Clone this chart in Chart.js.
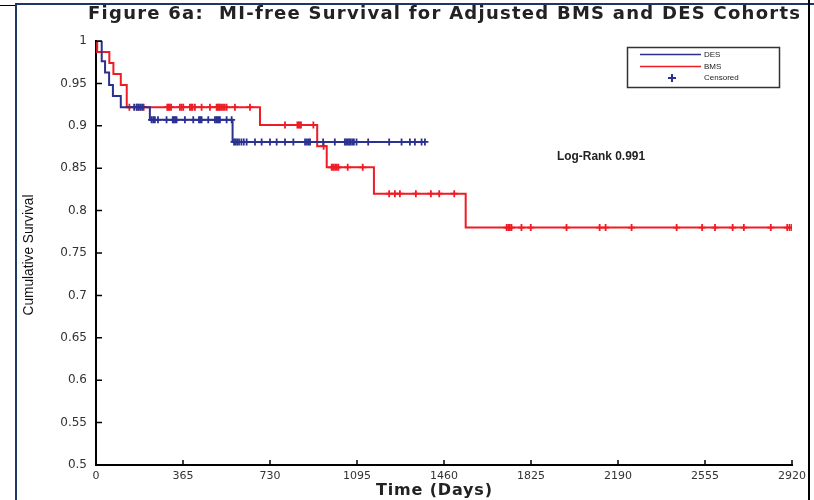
<!DOCTYPE html>
<html>
<head>
<title>MI-free Survival</title>
<script src="https://cdn.jsdelivr.net/npm/chart.js"></script>
<style>
  body { margin: 0; background: #fff; }
  #wrap { width: 814px; height: 500px; position: relative; }
</style>
</head>
<body>
<div id="wrap"><canvas id="kmChart" width="814" height="500"></canvas></div>
<script>
// axis ticks
const xTicks = [0, 365, 730, 1095, 1460, 1825, 2190, 2555, 2920];
const yTicks = [0.5, 0.55, 0.6, 0.65, 0.7, 0.75, 0.8, 0.85, 0.9, 0.95, 1];

// Kaplan-Meier steps (day of drop, survival after drop)
const desDays = [0, 24, 38, 55, 71, 104, 226, 573, 1380];
const desSurv = [1, 0.976, 0.963, 0.948, 0.935, 0.922, 0.907, 0.881, 0.881];
const bmsDays = [0, 5, 56, 73, 104, 129, 688, 928, 968, 1166, 1551, 2920];
const bmsSurv = [1, 0.987, 0.974, 0.961, 0.948, 0.922, 0.901, 0.876, 0.851, 0.820, 0.780, 0.780];

// censored patients (days)
const desCensored = [160, 170, 180, 188, 195, 233, 240, 247, 260, 296, 322, 327, 332, 338, 373, 408,
  432, 437, 443, 471, 499, 505, 510, 515, 520, 548, 569, 579, 585, 592, 600, 610, 620, 632, 667, 695,
  730, 758, 793, 828, 877, 885, 892, 898, 953, 1002, 1044, 1050, 1056, 1062, 1068, 1075, 1082, 1093,
  1142, 1230, 1282, 1317, 1338, 1366, 1380];
const bmsCensored = [140, 172, 178, 200, 299, 304, 309, 315, 352, 359, 366, 394, 400, 405, 415, 443, 478,
  506, 511, 516, 520, 526, 533, 540, 548, 583, 646, 793, 845, 850, 855, 860, 912, 955, 989, 995,
  1003, 1010, 1017, 1056, 1119, 1230, 1254, 1275, 1342, 1405, 1440, 1503, 1723, 1730, 1736, 1743,
  1785, 1824, 1974, 2113, 2138, 2247, 2436, 2543, 2597, 2671, 2718, 2831, 2900, 2910, 2920];

const blue = '#2b3190';
const red = '#ee1c25';

function stepAt(days, surv, t) {
  let s = surv[0];
  for (let i = 0; i < days.length; i++) if (days[i] <= t) s = surv[i];
  return s;
}

// draw text centred at x,y, spread with letter spacing to a given width
function spreadText(ctx, text, x, y, width, font, color, rot) {
  ctx.save();
  ctx.font = font;
  ctx.fillStyle = color;
  ctx.textAlign = 'left';
  ctx.textBaseline = 'middle';
  const w = ctx.measureText(text).width;
  ctx.translate(x, y);
  if (rot) ctx.rotate(rot);
  if ('letterSpacing' in ctx && width > w) {
    const sp = (width - w) / (text.length - 1);
    ctx.letterSpacing = sp + 'px';
    ctx.fillText(text, -width / 2, 0);
  } else {
    ctx.scale(width / w, 1);
    ctx.fillText(text, -w / 2, 0);
  }
  ctx.restore();
}

const decor = {
  id: 'decor',
  afterDraw(chart) {
    const ctx = chart.ctx;
    const xs = chart.scales.x, ys = chart.scales.y;
    const area = chart.chartArea;
    ctx.save();
    // inward tick marks
    ctx.strokeStyle = '#000';
    ctx.lineWidth = 1.5;
    ctx.beginPath();
    xTicks.forEach(t => {
      const px = xs.getPixelForValue(t);
      ctx.moveTo(px, area.bottom);
      ctx.lineTo(px, area.bottom - 5);
    });
    yTicks.forEach(t => {
      const py = ys.getPixelForValue(t);
      ctx.moveTo(area.left, py);
      ctx.lineTo(area.left + 6, py);
    });
    ctx.stroke();

    // legend
    ctx.strokeStyle = '#333';
    ctx.lineWidth = 1.5;
    ctx.strokeRect(627.5, 47.5, 152, 40);
    ctx.strokeStyle = blue;
    ctx.beginPath(); ctx.moveTo(640, 54.5); ctx.lineTo(701, 54.5); ctx.stroke();
    ctx.strokeStyle = red;
    ctx.beginPath(); ctx.moveTo(640, 66.5); ctx.lineTo(701, 66.5); ctx.stroke();
    ctx.strokeStyle = blue;
    ctx.lineWidth = 2;
    ctx.beginPath();
    ctx.moveTo(668, 78); ctx.lineTo(676, 78);
    ctx.moveTo(672, 74); ctx.lineTo(672, 82);
    ctx.stroke();
    ctx.fillStyle = '#222';
    ctx.font = '8px "Liberation Sans", Arial, sans-serif';
    ctx.textBaseline = 'middle';
    ctx.textAlign = 'left';
    ctx.fillText('DES', 704, 54.5);
    ctx.fillText('BMS', 704, 66.5);
    ctx.fillText('Censored', 704, 78);
    ctx.restore();

    // texts
    spreadText(ctx, 'Figure 6a:  MI-free Survival for Adjusted BMS and DES Cohorts', 444, 14, 712,
      'bold 18px "DejaVu Sans", sans-serif', '#222');
    spreadText(ctx, 'Log-Rank 0.991', 601, 157, 88, 'bold 12px "Liberation Sans", Arial, sans-serif', '#222');
    spreadText(ctx, 'Time (Days)', 434, 491, 116, 'bold 16px "DejaVu Sans", sans-serif', '#222');
    spreadText(ctx, 'Cumulative Survival', 29, 255, 121, '14px "Liberation Sans Narrow", "Liberation Sans", Arial, sans-serif', '#111', -Math.PI / 2);

    // page frame
    ctx.save();
    ctx.fillStyle = '#1c3966';
    ctx.fillRect(16, 3, 798, 2);
    ctx.fillRect(15, 3, 2, 497);
    ctx.fillStyle = '#000';
    ctx.fillRect(0, 5, 15, 1);
    ctx.fillRect(808, 0, 2, 500);
    ctx.restore();
  }
};

const ctx = document.getElementById('kmChart').getContext('2d');
new Chart(ctx, {
  type: 'line',
  data: {
    datasets: [
      {
        label: 'DES',
        data: desDays.map((d, i) => ({ x: d, y: desSurv[i] })),
        borderColor: blue,
        borderWidth: 2,
        pointRadius: 0,
        stepped: true
      },
      {
        label: 'DES censored',
        data: desCensored.map(d => ({ x: d, y: stepAt(desDays, desSurv, d) })),
        showLine: false,
        pointStyle: 'cross',
        pointRadius: 3.5,
        borderColor: blue,
        pointBorderWidth: 1.8
      },
      {
        label: 'BMS',
        data: bmsDays.map((d, i) => ({ x: d, y: bmsSurv[i] })),
        borderColor: red,
        borderWidth: 2,
        pointRadius: 0,
        stepped: true
      },
      {
        label: 'BMS censored',
        data: bmsCensored.map(d => ({ x: d, y: stepAt(bmsDays, bmsSurv, d) })),
        showLine: false,
        pointStyle: 'cross',
        pointRadius: 3.5,
        borderColor: red,
        pointBorderWidth: 1.8
      }
    ]
  },
  options: {
    responsive: false,
    animation: false,
    layout: { padding: { top: 41, right: 22, left: 0, bottom: 0 } },
    plugins: { legend: { display: false }, tooltip: { enabled: false } },
    scales: {
      x: {
        type: 'linear',
        min: 0,
        max: 2920,
        afterFit: s => { s.height = 35; },
        afterBuildTicks: s => { s.ticks = xTicks.map(v => ({ value: v })); },
        grid: { display: false, drawTicks: false },
        border: { color: '#000', width: 2 },
        ticks: {
          padding: 5,
          color: '#333',
          font: { family: '"DejaVu Sans", sans-serif', size: 11 },
          callback: v => String(v)
        }
      },
      y: {
        min: 0.5,
        max: 1,
        afterFit: s => { s.width = 96; },
        afterBuildTicks: s => { s.ticks = yTicks.map(v => ({ value: v })); },
        grid: { display: false, drawTicks: false },
        border: { color: '#000', width: 2 },
        ticks: {
          padding: 9,
          color: '#333',
          font: { family: '"DejaVu Sans", sans-serif', size: 12 },
          callback: v => String(+v.toFixed(2))
        }
      }
    }
  },
  plugins: [decor]
});
</script>
</body>
</html>
